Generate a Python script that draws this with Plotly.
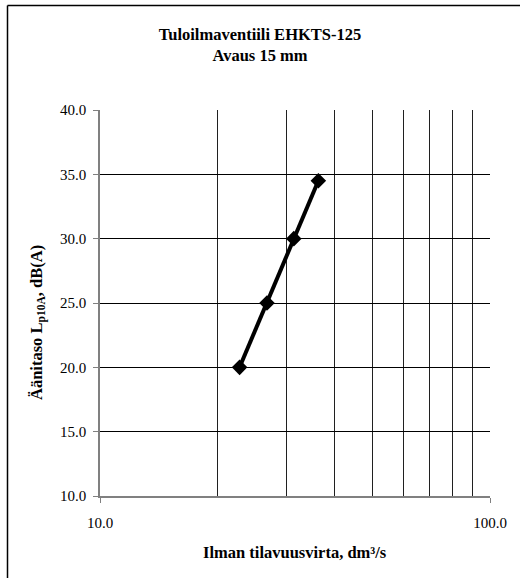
import plotly.graph_objects as go

# Data
flow_dm3s = [22.8, 26.8, 31.4, 36.3]
sound_level_db = [20.0, 25.0, 30.0, 34.5]

x_major_ticks = [10, 100]
x_major_labels = ["10.0", "100.0"]
x_minor_ticks = [20, 30, 40, 50, 60, 70, 80, 90]
y_ticks = [10, 15, 20, 25, 30, 35, 40]

title_lines = ["Tuloilmaventiili EHKTS-125", "Avaus 15 mm"]
x_title = "Ilman tilavuusvirta, dm³/s"
y_title = "Äänitaso L<sub>p10A</sub>, dB(A)"

SERIF = "Liberation Serif, Times New Roman, serif"
BOLD_SIZE = 16.5

fig = go.Figure()
fig.add_trace(go.Scatter(
    x=flow_dm3s, y=sound_level_db,
    mode="lines+markers",
    line=dict(color="black", width=4),
    marker=dict(symbol="diamond", size=12, color="black"),
    showlegend=False,
    cliponaxis=False,
))

fig.update_layout(
    width=520, height=578,
    margin=dict(l=100, r=30, t=110, b=82),
    paper_bgcolor="white", plot_bgcolor="white",
    font=dict(family=SERIF, color="black", size=15),
    title=dict(
        text="<b>" + "<br>".join(title_lines) + "</b>",
        x=0.5, xanchor="center", xref="container",
        y=1 - 40 / 578, yanchor="middle",
        font=dict(family=SERIF, size=BOLD_SIZE, color="black"),
    ),
    xaxis=dict(
        type="log", range=[1, 2],
        tickvals=x_major_ticks, ticktext=x_major_labels,
        ticks="outside", ticklen=5, tickcolor="#808080", tickwidth=1,
        ticklabelstandoff=7,
        showgrid=True, gridcolor="black", gridwidth=1,
        showline=True, linecolor="#808080", linewidth=1.5,
        minor=dict(tickvals=x_minor_ticks, showgrid=True,
                   gridcolor="#202020", gridwidth=1, ticks=""),
        zeroline=False,
        tickfont=dict(family=SERIF, size=15, color="black"),
    ),
    yaxis=dict(
        range=[10, 40], tickvals=y_ticks, tickformat=".1f",
        ticks="outside", ticklen=5, tickcolor="#808080", tickwidth=1,
        ticklabelstandoff=4,
        showgrid=True, gridcolor="black", gridwidth=1,
        showline=True, linecolor="#808080", linewidth=1.5,
        zeroline=False,
        tickfont=dict(family=SERIF, size=15, color="black"),
    ),
    annotations=[
        dict(
            text="<b>" + y_title + "</b>",
            xref="paper", yref="paper",
            x=(37 - 100) / 390, y=(496 - 323) / 386,
            xanchor="center", yanchor="middle",
            textangle=-90, showarrow=False,
            font=dict(family=SERIF, size=BOLD_SIZE, color="black"),
        ),
        dict(
            text="<b>" + x_title + "</b>",
            xref="paper", yref="paper",
            x=(295 - 100) / 390, y=(496 - 552) / 386,
            xanchor="center", yanchor="middle",
            showarrow=False,
            font=dict(family=SERIF, size=BOLD_SIZE, color="black"),
        ),
    ],
    shapes=[
        # outer chart border (top and left visible in the reference)
        dict(type="line", xref="paper", yref="paper",
             x0=(7.5 - 100) / 390, x1=(7.5 - 100) / 390,
             y0=-0.3, y1=(496 - 5.5) / 386,
             line=dict(color="black", width=1.5)),
        dict(type="line", xref="paper", yref="paper",
             x0=(7.5 - 100) / 390, x1=1.2,
             y0=(496 - 5.5) / 386, y1=(496 - 5.5) / 386,
             line=dict(color="black", width=1.5)),
    ],
)

fig.write_html(
    "out.html",
    config={"displayModeBar": False},
    post_script="document.body.style.margin='0';document.body.style.overflow='hidden';",
)
